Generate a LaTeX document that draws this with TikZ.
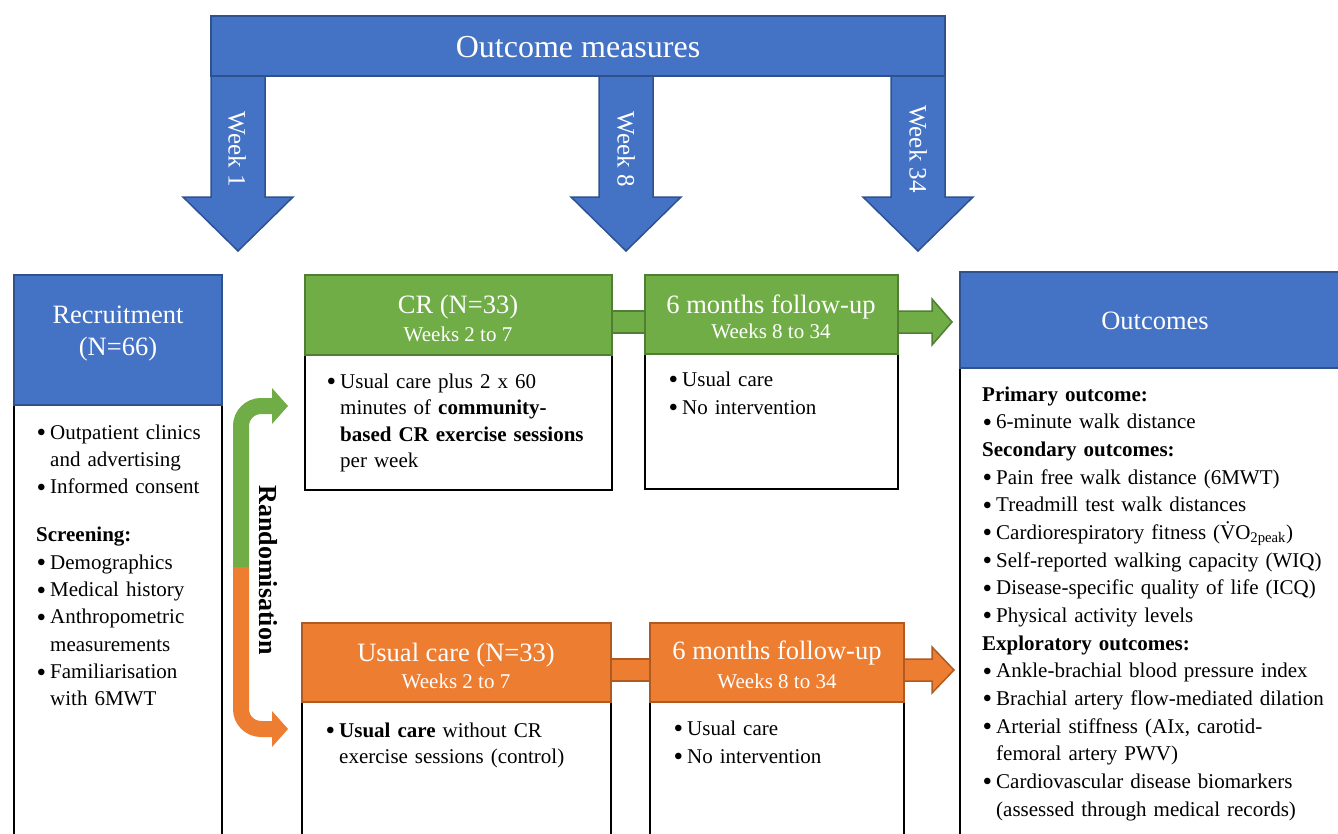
\documentclass[tikz,border=0pt]{standalone}
\usepackage{fontspec}
\setmainfont{Liberation Serif}
\usetikzlibrary{calc}
\definecolor{cblue}{HTML}{4472C4}
\definecolor{cbluedk}{HTML}{2F528F}
\definecolor{cgreen}{HTML}{70AD47}
\definecolor{cgreendk}{HTML}{507E32}
\definecolor{corange}{HTML}{ED7D31}
\definecolor{corangedk}{HTML}{AE5A21}
\newcommand\bul{\makebox[14pt][l]{\hspace{0.5pt}\raisebox{-2.6pt}{\scalebox{1.3}{\textbullet}}}}
\newcommand\ind{\hspace*{14pt}}
\begin{document}
\begin{tikzpicture}[x=1pt,y=-1pt,
  boxbase/.style={inner sep=0pt, outer sep=0pt, anchor=north west, line width=1.5pt},
  bluebox/.style={boxbase, fill=cblue, draw=cbluedk},
  greenbox/.style={boxbase, fill=cgreen, draw=cgreendk},
  orangebox/.style={boxbase, fill=corange, draw=corangedk},
  whitebox/.style={boxbase, fill=white, draw=black, line width=1.8pt},
  htitle/.style={text=white, font=\fontsize{26.5}{30}\selectfont, anchor=base, inner sep=0pt},
  hsub/.style={text=white, font=\fontsize{21}{24}\selectfont, anchor=base, inner sep=0pt},
  bodytext/.style={font=\fontsize{21}{27.3}\selectfont, anchor=base west, inner sep=0pt, text width=#1, align=left},
  weeklabel/.style={text=white, font=\fontsize{25}{28}\selectfont, rotate=-90, inner sep=0pt},
  blockarrow/.style={line width=1.5pt, line join=miter},
]
\clip (0,0) rectangle (1338,833);
\fill[white] (0,0) rectangle (1338,833);

% ---------- Outcome measures bar and week arrows ----------
\filldraw[blockarrow, fill=cblue, draw=cbluedk]
  (211,76) -- (211,197) -- (183,197) -- (238,251) -- (293,197) -- (265,197) -- (265,76) -- cycle;
\filldraw[blockarrow, fill=cblue, draw=cbluedk]
  (599,76) -- (599,197) -- (571,197) -- (626,251) -- (681,197) -- (653,197) -- (653,76) -- cycle;
\filldraw[blockarrow, fill=cblue, draw=cbluedk]
  (891,76) -- (891,197) -- (863,197) -- (918,251) -- (973,197) -- (945,197) -- (945,76) -- cycle;
\node[bluebox, minimum width=734pt, minimum height=60pt] (om) at (211,16) {};
\node[text=white, font=\fontsize{32}{36}\selectfont, anchor=base, inner sep=0pt] (omt) at (578,57) {Outcome measures};
\node[weeklabel] (w1) at (237,149) {Week 1};
\node[weeklabel] (w8) at (626,149) {Week 8};
\node[weeklabel] (w34) at (918,149) {Week 34};

% ---------- Recruitment ----------
\node[whitebox, minimum width=208pt, minimum height=460pt] (recw) at (14,405) {};
\node[bluebox, minimum width=208pt, minimum height=130pt] (rech) at (14,275) {};
\node[htitle] (recT) at (118,323) {Recruitment};
\node[htitle] (recN) at (118,355) {(N=66)};
\node[bodytext=190pt] (recB) at (36,439) {\bul Outpatient clinics\\
\ind and advertising\\
\bul Informed consent\\[21pt]
\textbf{Screening:}\\
\bul Demographics\\
\bul Medical history\\
\bul Anthropometric\\
\ind measurements\\
\bul Familiarisation\\
\ind with 6MWT};

% ---------- CR arm ----------
\node[whitebox, minimum width=307pt, minimum height=135pt] (crw) at (305,355) {};
\node[greenbox, minimum width=307pt, minimum height=80pt] (crh) at (305,275) {};
\node[htitle] (crT) at (458,313) {CR (N=33)};
\node[hsub] (crS) at (458,341) {Weeks 2 to 7};
\node[bodytext=290pt, font=\fontsize{21}{26.5}\selectfont] (crB) at (326,388) {\bul Usual care plus 2 x 60\\
\ind minutes of \textbf{community-}\\
\ind \textbf{based CR exercise sessions}\\
\ind per week};

\node[whitebox, minimum width=253pt, minimum height=135pt] (fu1w) at (645,354) {};
\node[greenbox, minimum width=253pt, minimum height=79pt] (fu1h) at (645,275) {};
\node[htitle] (fu1T) at (771,313) {6 months follow-up};
\node[hsub] (fu1S) at (771,338) {Weeks 8 to 34};
\node[bodytext=230pt, font=\fontsize{21}{28}\selectfont] (fu1B) at (668,386) {\bul Usual care\\
\bul No intervention};

% ---------- Usual care arm ----------
\node[whitebox, minimum width=309pt, minimum height=160pt] (ucw) at (302,702) {};
\node[orangebox, minimum width=309pt, minimum height=79pt] (uch) at (302,623) {};
\node[htitle] (ucT) at (456,661) {Usual care (N=33)};
\node[hsub] (ucS) at (456,688) {Weeks 2 to 7};
\node[bodytext=290pt, font=\fontsize{21}{26}\selectfont] (ucB) at (325,737) {\bul \textbf{Usual care} without CR\\
\ind exercise sessions (control)};

\node[whitebox, minimum width=254pt, minimum height=160pt] (fu2w) at (650,702) {};
\node[orangebox, minimum width=254pt, minimum height=79pt] (fu2h) at (650,623) {};
\node[htitle] (fu2T) at (777,659) {6 months follow-up};
\node[hsub] (fu2S) at (777,688) {Weeks 8 to 34};
\node[bodytext=230pt, font=\fontsize{21}{28}\selectfont] (fu2B) at (673,735) {\bul Usual care\\
\bul No intervention};

% ---------- Outcomes ----------
\node[whitebox, minimum width=400pt, minimum height=480pt] (outw) at (960,368) {};
\node[bluebox, minimum width=400pt, minimum height=96pt] (outh) at (960,272) {};
\node[htitle] (outT) at (1155,329) {Outcomes};
\node[bodytext=360pt, font=\fontsize{21}{27.67}\selectfont] (outB) at (982,401) {\textbf{Primary outcome:}\\
\bul 6-minute walk distance\\
\textbf{Secondary outcomes:}\\
\bul Pain free walk distance (6MWT)\\
\bul Treadmill test walk distances\\
\bul Cardiorespiratory fitness (\.{V}O\textsubscript{2peak})\\
\bul Self-reported walking capacity (WIQ)\\
\bul Disease-specific quality of life (ICQ)\\
\bul Physical activity levels\\
\textbf{Exploratory outcomes:}\\
\bul Ankle-brachial blood pressure index\\
\bul Brachial artery flow-mediated dilation\\
\bul Arterial stiffness (AIx, carotid-\\
\ind femoral artery PWV)\\
\bul Cardiovascular disease biomarkers\\
\ind (assessed through medical records)};

% ---------- connectors between boxes ----------
\filldraw[blockarrow, fill=cgreen, draw=cgreendk]
  ($(crh.north east)+(0,36)$) rectangle ($(fu1h.north west)+(0,58)$);
\filldraw[blockarrow, fill=cgreen, draw=cgreendk]
  ($(fu1h.north east)+(0,36)$) -- ++(34,0) -- ++(0,-12) -- ++(20,23) -- ++(-20,23) -- ++(0,-12) -- ++(-34,0) -- cycle;
\filldraw[blockarrow, fill=corange, draw=corangedk]
  ($(uch.north east)+(0,36)$) rectangle ($(fu2h.north west)+(0,58)$);
\filldraw[blockarrow, fill=corange, draw=corangedk]
  ($(fu2h.north east)+(0,36)$) -- ++(28,0) -- ++(0,-12) -- ++(22,23) -- ++(-22,23) -- ++(0,-12) -- ++(-28,0) -- cycle;

% ---------- Randomisation arrow ----------
\draw[cgreen, line width=16pt, rounded corners=20pt] (241,568) -- (241,406) -- (273,406);
\fill[cgreen] (272,388) -- (288,406) -- (272,424) -- cycle;
\draw[corange, line width=16pt, rounded corners=20pt] (241,567) -- (241,729) -- (273,729);
\fill[corange] (272,711) -- (288,729) -- (272,747) -- cycle;
\node[font=\bfseries\fontsize{26}{30}\selectfont, rotate=-90, inner sep=0pt] (rand) at (268,570) {Randomisation};
\end{tikzpicture}
\end{document}
